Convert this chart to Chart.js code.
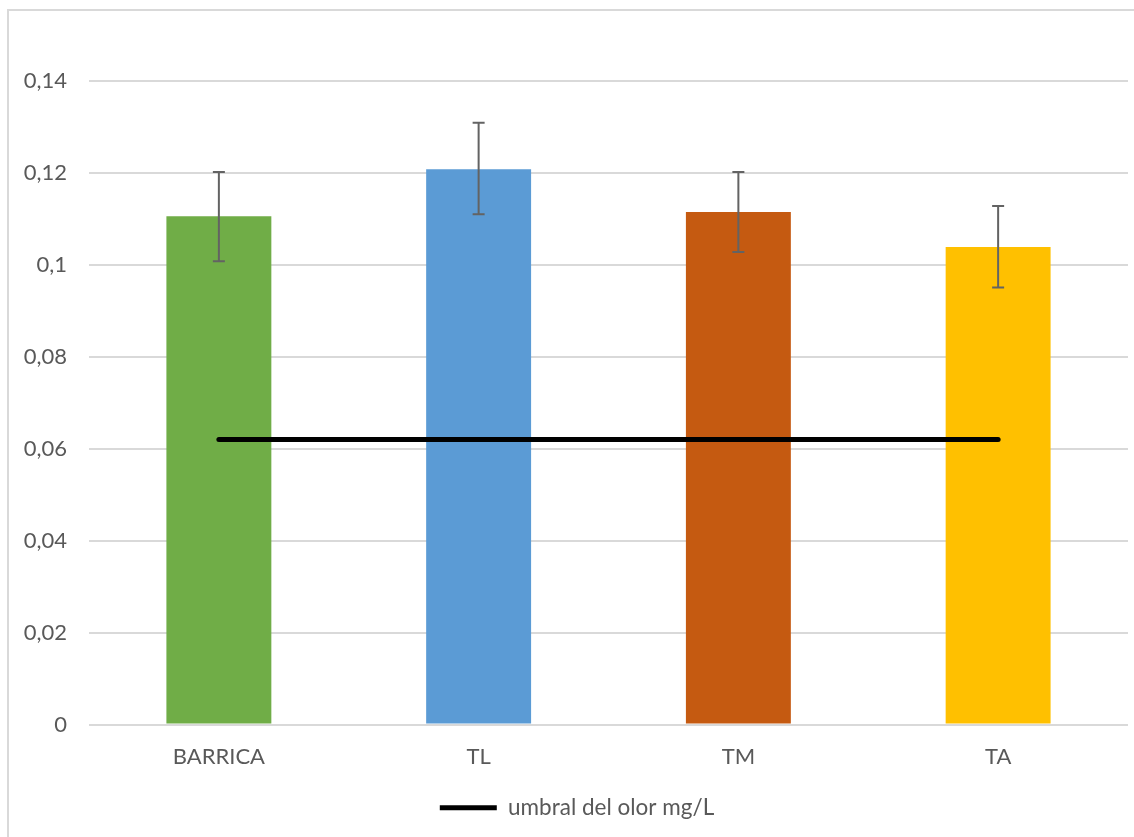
<!DOCTYPE html>
<html>
<head>
<meta charset="utf-8">
<script src="https://cdn.jsdelivr.net/npm/chart.js@4/dist/chart.umd.min.js"></script>
<style>
  html, body { margin: 0; padding: 0; background: #fff; overflow: hidden; }
  #frame {
    position: absolute; left: 7px; top: 9px; width: 1200px; height: 900px;
    border: 2px solid #d9d9d9; box-sizing: border-box;
  }
  #wrap { position: absolute; left: 0; top: 0; width: 1134px; height: 837px; }
</style>
</head>
<body>
<div id="frame"></div>
<div id="wrap"><canvas id="chart"></canvas></div>
<script>
const categories = ["BARRICA", "TL", "TM", "TA"];
const barValues = [0.1106, 0.1208, 0.1115, 0.1039];
const errHigh = [0.1202, 0.1309, 0.1202, 0.1128];
const errLow = [0.1008, 0.1110, 0.1028, 0.0951];
const barColors = ["#70AD47", "#5B9BD5", "#C55A11", "#FFC000"];
const thresholdLabel = "umbral del olor mg/L";
const thresholdValues = [0.062, 0.062, 0.062, 0.062];

const textColor = "#595959";
const fontFamily = "Lato, 'Liberation Sans', sans-serif";

// draws the error bars on top of the bar dataset
const errorBars = {
	id: "errorBars",
	afterDatasetsDraw(chart) {
		const meta = chart.getDatasetMeta(1);
		const y = chart.scales.y;
		const ctx = chart.ctx;
		ctx.save();
		ctx.strokeStyle = "#636363";
		ctx.lineWidth = 2;
		meta.data.forEach((bar, i) => {
			const top = y.getPixelForValue(errHigh[i]);
			const bottom = y.getPixelForValue(errLow[i]);
			ctx.beginPath();
			ctx.moveTo(bar.x, top);
			ctx.lineTo(bar.x, bottom);
			ctx.moveTo(bar.x - 6, top);
			ctx.lineTo(bar.x + 6, top);
			ctx.moveTo(bar.x - 6, bottom);
			ctx.lineTo(bar.x + 6, bottom);
			ctx.stroke();
		});
		ctx.restore();
	},
};

// the legend sits a little right of the canvas centre
const legendShift = {
	id: "legendShift",
	afterLayout(chart) {
		chart.legend.left += 13;
		chart.legend.right += 13;
	},
};

new Chart(document.getElementById("chart"), {
	data: {
		labels: categories,
		datasets: [
			{
				type: "line",
				label: thresholdLabel,
				data: thresholdValues,
				borderColor: "#000",
				backgroundColor: "#000",
				borderWidth: 5,
				borderCapStyle: "round",
				pointRadius: 0,
				pointStyle: "line",
				order: 0,
			},
			{
				type: "bar",
				label: "valores",
				data: barValues,
				backgroundColor: barColors,
				barPercentage: 1,
				categoryPercentage: 0.404,
				order: 1,
			},
		],
	},
	options: {
		responsive: true,
		maintainAspectRatio: false,
		animation: false,
		layout: { padding: { top: 81, right: 6, bottom: 8, left: 0 } },
		plugins: {
			tooltip: { enabled: false },
			legend: {
				position: "bottom",
				labels: {
					color: textColor,
					font: { family: fontFamily, size: 22.5 },
					usePointStyle: true,
					pointStyleWidth: 57,
					padding: 10,
					filter: (item) => item.text === thresholdLabel,
				},
			},
		},
		scales: {
			x: {
				grid: { display: false },
				border: { display: false },
				ticks: {
					color: textColor,
					font: { family: fontFamily, size: 22 },
					padding: 11,
				},
				afterFit: (scale) => { scale.height = 62; },
			},
			y: {
				min: 0,
				max: 0.14,
				border: { display: false },
				grid: { color: "#d9d9d9", lineWidth: 2, drawTicks: false },
				ticks: {
					stepSize: 0.02,
					padding: 22,
					color: textColor,
					font: { family: fontFamily, size: 22 },
					callback: (v) => Number(v.toFixed(2)).toString().replace(".", ","),
				},
				afterFit: (scale) => { scale.width = 89; },
			},
		},
	},
	plugins: [errorBars, legendShift],
});
</script>
</body>
</html>
